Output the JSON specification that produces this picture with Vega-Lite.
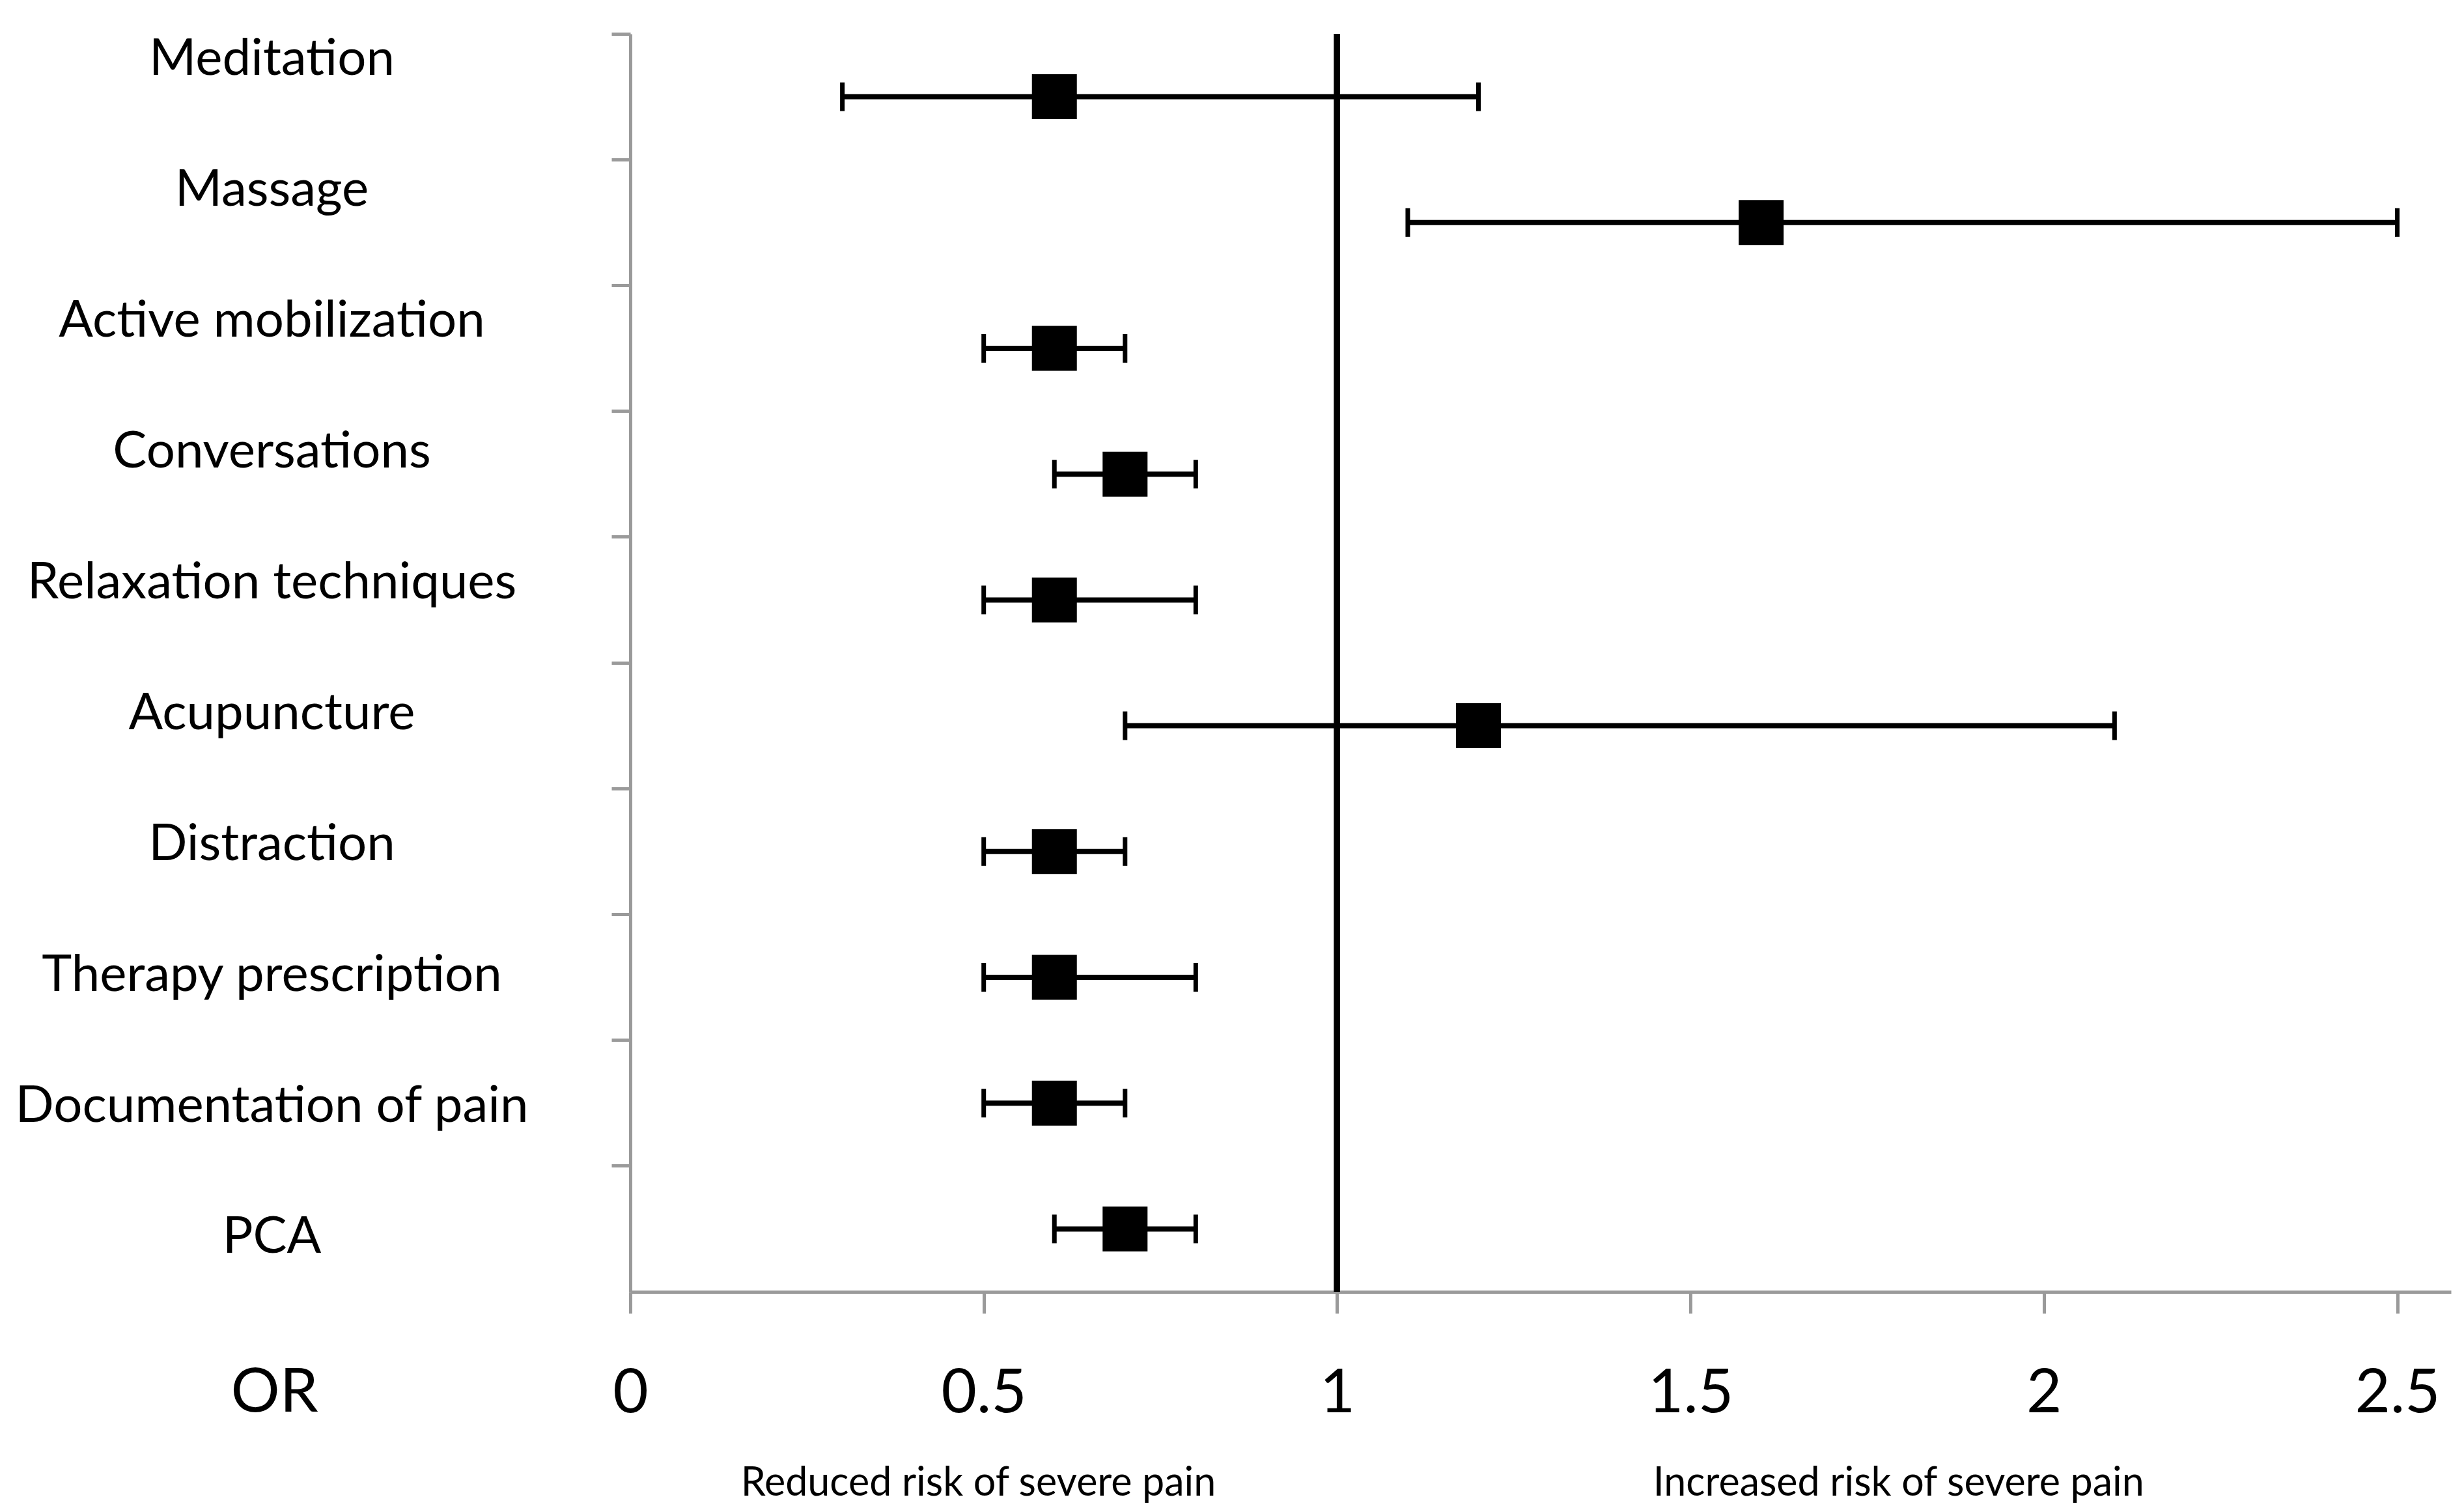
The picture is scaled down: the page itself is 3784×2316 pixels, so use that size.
{
  "$schema": "https://vega.github.io/schema/vega-lite/v6.json",
  "width": 2796,
  "height": 1932,
  "autosize": {"type": "none"},
  "padding": {"left": 968, "top": 52, "right": 20, "bottom": 332},
  "background": "white",
  "config": {"view": {"stroke": null}, "font": "Lato", "axis": {"grid": false}},
  "data": {
    "values": [
      {"intervention": "Meditation", "or": 0.6, "lower": 0.3, "upper": 1.2},
      {"intervention": "Massage", "or": 1.6, "lower": 1.1, "upper": 2.5},
      {"intervention": "Active mobilization", "or": 0.6, "lower": 0.5, "upper": 0.7},
      {"intervention": "Conversations", "or": 0.7, "lower": 0.6, "upper": 0.8},
      {"intervention": "Relaxation techniques", "or": 0.6, "lower": 0.5, "upper": 0.8},
      {"intervention": "Acupuncture", "or": 1.2, "lower": 0.7, "upper": 2.1},
      {"intervention": "Distraction", "or": 0.6, "lower": 0.5, "upper": 0.7},
      {"intervention": "Therapy prescription", "or": 0.6, "lower": 0.5, "upper": 0.8},
      {"intervention": "Documentation of pain", "or": 0.6, "lower": 0.5, "upper": 0.7},
      {"intervention": "PCA", "or": 0.7, "lower": 0.6, "upper": 0.8}
    ]
  },
  "layer": [
    {
      "mark": {"type": "rule", "color": "black", "strokeWidth": 8},
      "encoding": {
        "y": {
          "field": "intervention", "type": "nominal", "sort": null,
          "scale": {"type": "band", "paddingInner": 0, "paddingOuter": 0},
          "axis": {
            "orient": "left",
            "labels": false, "ticks": true, "tickSize": 29, "tickWidth": 5, "tickColor": "#9a9a9a",
            "domain": true, "domainColor": "#9a9a9a", "domainWidth": 5, "bandPosition": 0,
            "title": null, "grid": false
          }
        },
        "x": {
          "field": "lower", "type": "quantitative",
          "scale": {"domain": [0, 2.576], "nice": false, "zero": false},
          "axis": {
            "orient": "bottom",
            "values": [0, 0.5, 1, 1.5, 2, 2.5], "format": "~g",
            "title": "OR", "titleX": -547, "titleY": 183, "titleBaseline": "alphabetic",
            "titleAlign": "center", "titleFontSize": 94, "titleFontWeight": "normal", "titleColor": "black",
            "titleFont": "Lato",
            "labelFont": "Lato", "labelFontSize": 94, "labelColor": "black", "labelBaseline": "alphabetic",
            "labelPadding": 151, "tickSize": 33, "tickWidth": 5, "tickColor": "#9a9a9a",
            "domainColor": "#9a9a9a", "domainWidth": 5, "labelFlush": false, "labelOverlap": false,
            "grid": false
          }
        },
        "x2": {"field": "upper"}
      }
    },
    {
      "mark": {"type": "rule", "color": "black", "strokeWidth": 9},
      "encoding": {"x": {"datum": 1, "type": "quantitative", "axis": null}}
    },
    {
      "mark": {"type": "tick", "color": "black", "thickness": 7, "size": 44, "opacity": 1},
      "encoding": {
        "y": {"field": "intervention", "type": "nominal", "sort": null, "scale": {"type": "band", "paddingInner": 0, "paddingOuter": 0}, "axis": null},
        "x": {"field": "lower", "type": "quantitative", "axis": null}
      }
    },
    {
      "mark": {"type": "tick", "color": "black", "thickness": 7, "size": 44, "opacity": 1},
      "encoding": {
        "y": {"field": "intervention", "type": "nominal", "sort": null, "scale": {"type": "band", "paddingInner": 0, "paddingOuter": 0}, "axis": null},
        "x": {"field": "upper", "type": "quantitative", "axis": null}
      }
    },
    {
      "mark": {"type": "point", "shape": "square", "filled": true, "color": "black", "size": 4761, "opacity": 1, "strokeWidth": 0},
      "encoding": {
        "y": {"field": "intervention", "type": "nominal", "sort": null, "scale": {"type": "band", "paddingInner": 0, "paddingOuter": 0}, "axis": null},
        "x": {"field": "or", "type": "quantitative", "axis": null}
      }
    },
    {
      "mark": {"type": "point", "opacity": 0},
      "encoding": {
        "y": {
          "field": "intervention", "type": "nominal", "sort": null,
          "scale": {"type": "point", "padding": 0.3036, "align": 0.32},
          "axis": {
            "orient": "left", "ticks": false, "domain": false, "title": null, "grid": false,
            "labelAlign": "center", "labelBaseline": "middle", "labelPadding": 551,
            "labelFont": "Lato", "labelFontSize": 78, "labelColor": "black", "labelLimit": 0, "labelOverlap": false
          }
        },
        "x": {
          "datum": 1, "type": "quantitative",
          "axis": {
            "orient": "bottom",
            "values": [0.492, 1.794],
            "labelExpr": "datum.value < 1 ? 'Reduced risk of severe pain' : 'Increased risk of severe pain'",
            "ticks": false, "domain": false, "title": null, "grid": false,
            "labelFont": "Lato", "labelFontSize": 61, "labelColor": "black", "labelPadding": 312,
            "labelBaseline": "alphabetic", "labelFlush": false, "labelLimit": 0, "labelOverlap": false,
            "labelAlign": "center"
          }
        }
      }
    }
  ],
  "resolve": {"scale": {"y": "independent"}, "axis": {"x": "independent", "y": "independent"}}
}
